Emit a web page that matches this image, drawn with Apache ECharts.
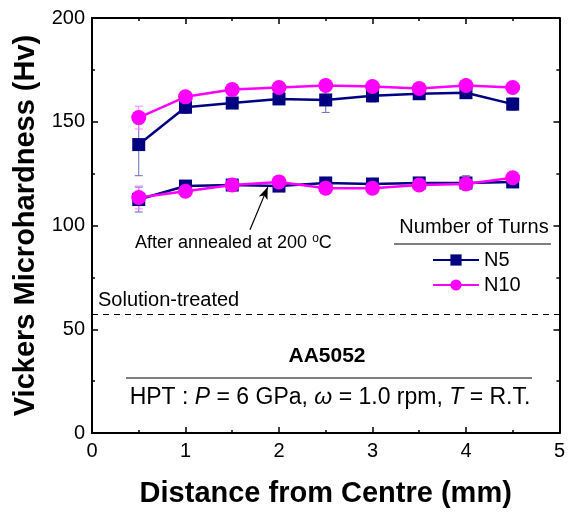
<!DOCTYPE html>
<html>
<head>
<meta charset="utf-8">
<script src="https://cdn.jsdelivr.net/npm/echarts@6/dist/echarts.min.js"></script>
<style>
  html, body { margin: 0; padding: 0; background: #fff; }
  #chart { width: 568px; height: 513px; }
</style>
</head>
<body>
<div id="chart"></div>
<script>
// distances (mm)
const distance = [0.5, 1, 1.5, 2, 2.5, 3, 3.5, 4, 4.5];

// as-HPT
const n5Hpt = [139, 157, 159, 161, 160.5, 162.5, 163.5, 164, 158.5];
const n5HptErr = [15, 3, 2, 2, 6, 3, 2, 2, 3];
const n10Hpt = [152, 162, 165.5, 166.5, 167.5, 167, 166, 167.5, 166.5];
const n10HptErr = [5.5, 2, 1.5, 1.5, 1.5, 2, 1.5, 1.5, 1.5];

// after annealing at 200 C
const n5Ann = [112.5, 119, 119.5, 119, 120.5, 120, 120.5, 120.5, 121];
const n5AnnErr = [6, 1.5, 1.5, 2, 1.5, 1.5, 1.5, 3.5, 1.5];
const n10Ann = [113.5, 116.5, 119.5, 121, 118, 118, 119.5, 120, 123];
const n10AnnErr = [5.5, 1.5, 1.5, 1.5, 1.5, 1.5, 1.5, 1.5, 1.5];

const solutionTreated = 57;

const navy = '#000080';
const pink = '#ff00ff';
const font = 'Liberation Sans, Arial, sans-serif';

const chart = echarts.init(document.getElementById('chart'));

function pairs(vals) {
  return distance.map((x, i) => [x, vals[i]]);
}

function errData(vals, errs) {
  return distance.map((x, i) => [x, vals[i] - errs[i], vals[i] + errs[i]]);
}

function errSeries(vals, errs, color) {
  return {
    type: 'custom',
    silent: true,
    z: 1,
    data: errData(vals, errs),
    renderItem: (params, api) => {
      const lo = api.coord([api.value(0), api.value(1)]);
      const hi = api.coord([api.value(0), api.value(2)]);
      const w = 4;
      const style = { stroke: color, lineWidth: 1 };
      return {
        type: 'group',
        children: [
          { type: 'line', shape: { x1: lo[0], y1: lo[1], x2: hi[0], y2: hi[1] }, style },
          { type: 'line', shape: { x1: lo[0] - w, y1: lo[1], x2: lo[0] + w, y2: lo[1] }, style },
          { type: 'line', shape: { x1: hi[0] - w, y1: hi[1], x2: hi[0] + w, y2: hi[1] }, style }
        ]
      };
    }
  };
}

function lineSeries(name, vals, color, symbol, size) {
  return {
    name: name,
    type: 'line',
    data: pairs(vals),
    symbol: symbol,
    symbolSize: size,
    z: 3,
    lineStyle: { color: color, width: 2.5 },
    itemStyle: { color: color },
    emphasis: { disabled: true }
  };
}

const axisCommon = {
  axisLine: { show: true, onZero: false, lineStyle: { color: '#000', width: 2 } },
  axisTick: { show: true, inside: true, length: 6, lineStyle: { color: '#000', width: 1.5 } },
  minorTick: { show: true, splitNumber: 2, length: 3, lineStyle: { color: '#000', width: 1.5 } },
  splitLine: { show: false }
};

const option = {
  animation: false,
  grid: { left: 92, right: 6, top: 18, bottom: 80 },
  legend: {
    data: ['N5', 'N10'],
    orient: 'vertical',
    left: 432,
    top: 250,
    padding: 0,
    itemWidth: 46,
    itemHeight: 14,
    itemGap: 5,
    textStyle: { fontFamily: font, fontSize: 20, color: '#000' }
  },
  xAxis: [
    Object.assign({}, axisCommon, {
      type: 'value', min: 0, max: 5, interval: 1,
      axisLabel: { fontFamily: font, fontSize: 20, color: '#000', margin: 8 },
      name: 'Distance from Centre (mm)',
      nameLocation: 'middle',
      nameGap: 46,
      nameTextStyle: { fontFamily: font, fontSize: 29, fontWeight: 'bold', color: '#000' }
    }),
    Object.assign({}, axisCommon, {
      type: 'value', min: 0, max: 5, interval: 1, position: 'top',
      axisLabel: { show: false }
    })
  ],
  yAxis: [
    Object.assign({}, axisCommon, {
      type: 'value', min: 0, max: 200, interval: 50,
      axisLabel: { fontFamily: font, fontSize: 20, color: '#000', margin: 7 },
      name: 'Vickers Microhardness (Hv)',
      nameLocation: 'middle',
      nameGap: 40,
      nameTextStyle: { fontFamily: font, fontSize: 29, fontWeight: 'bold', color: '#000' }
    }),
    Object.assign({}, axisCommon, {
      type: 'value', min: 0, max: 200, interval: 50, position: 'right',
      axisLabel: { show: false }
    })
  ],
  series: [
    errSeries(n5Hpt, n5HptErr, '#6a6ac0'),
    errSeries(n10Hpt, n10HptErr, '#ff80ff'),
    errSeries(n5Ann, n5AnnErr, '#6a6ac0'),
    errSeries(n10Ann, n10AnnErr, '#ff80ff'),
    lineSeries('N5', n5Hpt, navy, 'rect', 13),
    lineSeries('N10', n10Hpt, pink, 'circle', 15),
    lineSeries('N5', n5Ann, navy, 'rect', 13),
    Object.assign(lineSeries('N10', n10Ann, pink, 'circle', 15), {
      markLine: {
        silent: true,
        animation: false,
        label: { show: false },
        data: [
          [
            { yAxis: solutionTreated, x: 92, symbol: 'none', lineStyle: { type: [6, 5], color: '#000', width: 1 } },
            { yAxis: solutionTreated, x: 562, symbol: 'none' }
          ],
          [
            { coord: [1.69, 98], symbol: 'none', lineStyle: { type: 'solid', color: '#000', width: 1.2 } },
            { coord: [1.88, 118.5], symbol: 'arrow', symbolSize: [7, 12] }
          ]
        ]
      }
    })
  ],
  graphic: [
    {
      type: 'text', x: 135, y: 243,
      style: {
        text: 'After annealed at 200 {sup|o}C',
        font: '18px ' + font, fill: '#000', verticalAlign: 'middle',
        rich: { sup: { fontSize: 12, verticalAlign: 'top', padding: [0, 0, 8, 0] } }
      }
    },
    {
      type: 'text', x: 474, y: 227,
      style: { text: 'Number of Turns', font: '20px ' + font, fill: '#000', align: 'center', verticalAlign: 'middle' }
    },
    { type: 'line', shape: { x1: 394, y1: 244, x2: 551, y2: 244 }, style: { stroke: '#000', lineWidth: 1.2 } },
    {
      type: 'text', x: 98, y: 300,
      style: { text: 'Solution-treated', font: '20px ' + font, fill: '#000', verticalAlign: 'middle' }
    },
    {
      type: 'text', x: 327, y: 356,
      style: { text: 'AA5052', font: 'bold 21px ' + font, fill: '#000', align: 'center', verticalAlign: 'middle' }
    },
    { type: 'line', shape: { x1: 126, y1: 378, x2: 532, y2: 378 }, style: { stroke: '#000', lineWidth: 1.2 } },
    {
      type: 'text', x: 330, y: 398,
      style: {
        text: 'HPT : {i|P} = 6 GPa, {i|ω} = 1.0 rpm, {i|T} = R.T.',
        font: '23px ' + font, fill: '#000', align: 'center', verticalAlign: 'middle',
        rich: { i: { fontStyle: 'italic', fontSize: 23, fontFamily: font } }
      }
    }
  ]
};

chart.setOption(option);
</script>
</body>
</html>
